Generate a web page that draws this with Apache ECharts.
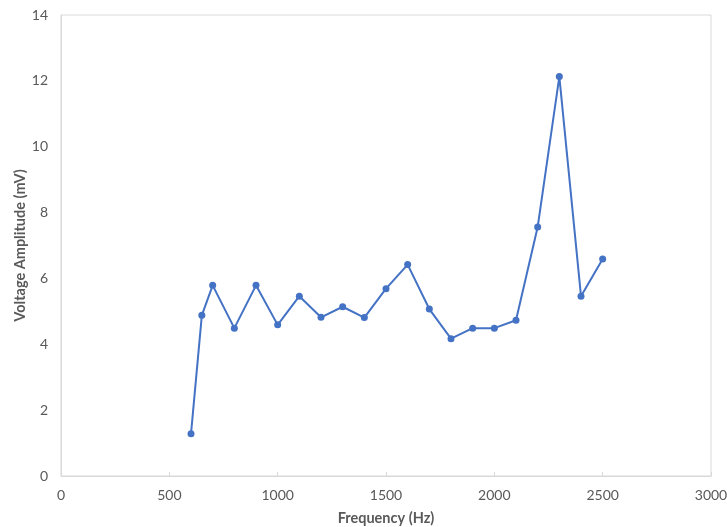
<!DOCTYPE html>
<html><head><meta charset="utf-8">
<script src="https://cdn.jsdelivr.net/npm/echarts@6/dist/echarts.min.js"></script>
<style>html,body{margin:0;padding:0;background:#fff}#c{width:727px;height:527px}</style>
</head><body><div id="c"></div>
<script>
var frequencies = [600, 650, 700, 800, 900, 1000, 1100, 1200, 1300, 1400, 1500, 1600, 1700, 1800, 1900, 2000, 2100, 2200, 2300, 2400, 2500];
var amplitudes = [1.28, 4.88, 5.79, 4.49, 5.79, 4.59, 5.46, 4.82, 5.14, 4.81, 5.69, 6.42, 5.07, 4.17, 4.49, 4.49, 4.73, 7.56, 12.13, 5.46, 6.59];
var xTitle = 'Frequency (Hz)';
var yTitle = 'Voltage Amplitude (mV)';

var chart = echarts.init(document.getElementById('c'), null, {renderer: 'canvas'});
var font = 'Lato, "Open Sans", sans-serif';
chart.setOption({
  animation: false,
  backgroundColor: '#fff',
  grid: {left: 61, right: 16, top: 15, bottom: 51, show: true, borderColor: '#d9d9d9', borderWidth: 1,
         containLabel: false, outerBoundsMode: 'none'},
  xAxis: {
    type: 'value', min: 0, max: 3000, interval: 500,
    name: xTitle, nameLocation: 'middle', nameGap: 35,
    nameTextStyle: {color: '#595959', fontSize: 14.5, fontWeight: 'bold', fontFamily: font},
    axisLine: {show: true, lineStyle: {color: '#d9d9d9'}},
    axisTick: {show: true, inside: true, length: 4, lineStyle: {color: '#d9d9d9'}},
    axisLabel: {color: '#595959', fontSize: 14, fontFamily: font, margin: 12,
                formatter: function (v) { return String(v); }},
    splitLine: {show: false}
  },
  yAxis: {
    type: 'value', min: 0, max: 14, interval: 2,
    name: yTitle, nameLocation: 'middle', nameGap: 33, nameRotate: 90, nameMoveOverlap: false,
    nameTextStyle: {color: '#595959', fontSize: 14.5, fontWeight: 'bold', fontFamily: font},
    axisLine: {show: true, lineStyle: {color: '#d9d9d9'}},
    axisTick: {show: false},
    axisLabel: {color: '#595959', fontSize: 14, fontFamily: font, margin: 13},
    splitLine: {show: false}
  },
  series: [{
    type: 'line',
    data: frequencies.map(function (f, i) { return [f, amplitudes[i]]; }),
    symbol: 'circle', symbolSize: 7,
    lineStyle: {color: '#4472C4', width: 2},
    itemStyle: {color: '#4472C4'}
  }]
});
</script></body></html>
